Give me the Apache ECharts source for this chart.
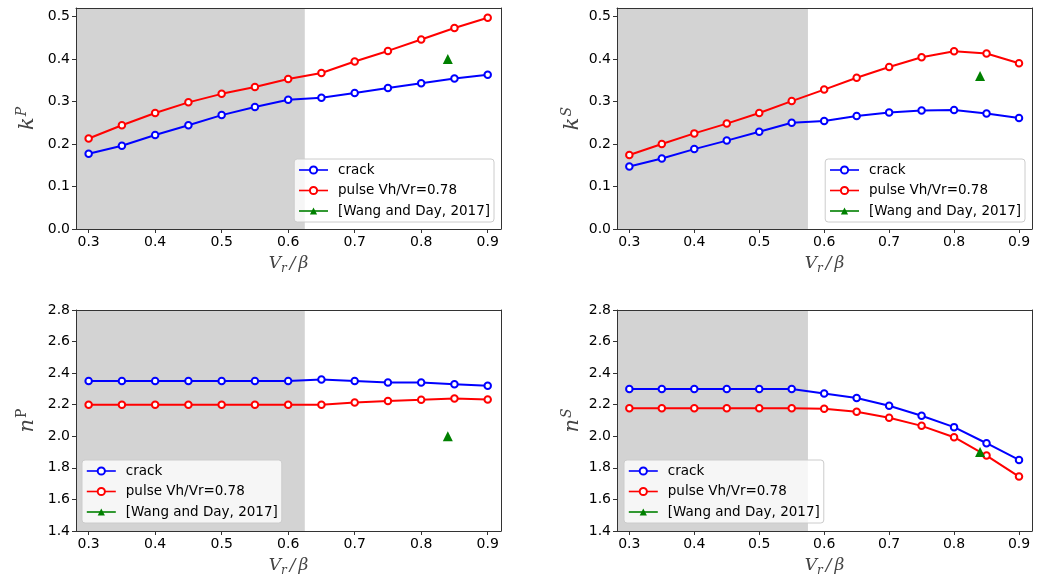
<!DOCTYPE html>
<html><head><meta charset="utf-8">
<script src="https://cdn.jsdelivr.net/npm/echarts@6/dist/echarts.min.js"></script>
<style>html,body{margin:0;padding:0;background:#fff}#c{width:1056px;height:582px}</style>
</head><body><div id="c"></div>
<script>
// ---- data ----
const vr = [0.30,0.35,0.40,0.45,0.50,0.55,0.60,0.65,0.70,0.75,0.80,0.85,0.90];
const kPCrack = [0.177,0.196,0.221,0.244,0.268,0.287,0.304,0.309,0.320,0.332,0.343,0.354,0.363];
const kPPulse = [0.213,0.244,0.273,0.298,0.318,0.334,0.353,0.367,0.394,0.419,0.446,0.473,0.497];
const kSCrack = [0.147,0.166,0.188,0.208,0.229,0.250,0.254,0.266,0.274,0.279,0.280,0.272,0.261];
const kSPulse = [0.174,0.200,0.225,0.248,0.273,0.301,0.328,0.356,0.381,0.404,0.418,0.413,0.390];
const nPCrack = [2.35,2.35,2.35,2.35,2.35,2.35,2.35,2.36,2.35,2.34,2.34,2.33,2.32];
const nPPulse = [2.20,2.20,2.20,2.20,2.20,2.20,2.20,2.20,2.214,2.223,2.231,2.240,2.233];
const nSCrack = [2.30,2.30,2.30,2.30,2.30,2.30,2.271,2.242,2.193,2.130,2.058,1.956,1.850];
const nSPulse = [2.178,2.178,2.178,2.178,2.178,2.178,2.174,2.155,2.117,2.066,1.994,1.878,1.745];
const wangX = 0.84;
const wangKP = 0.40, wangKS = 0.36, wangNP = 2.00, wangNS = 1.90;
const shadeEndP = 0.625, shadeEndS = 0.575;
const xTicks = [0.3,0.4,0.5,0.6,0.7,0.8,0.9];
const kTicks = [0.0,0.1,0.2,0.3,0.4,0.5];
const nTicks = [1.4,1.6,1.8,2.0,2.2,2.4,2.6,2.8];
const names = ['crack','pulse Vh/Vr=0.78','[Wang and Day, 2017]'];

// ---- layout ----
const X_MIN = 0.281, X_MAX = 0.92;
const panels = [
  {grid:{left:76,top:8,width:425,height:221}, ymin:0, ymax:0.52, ticks:kTicks, dec:1, crack:kPCrack, pulse:kPPulse, wang:wangKP, shade:shadeEndP,
   yname:'{i|k}{sup|P}', nameGap:35, legend:{right:562,bottom:360}},
  {grid:{left:617,top:8,width:415,height:221}, ymin:0, ymax:0.52, ticks:kTicks, dec:1, crack:kSCrack, pulse:kSPulse, wang:wangKS, shade:shadeEndS,
   yname:'{i|k}{sup|S}', nameGap:31, legend:{right:31,bottom:360}},
  {grid:{left:76,top:310,width:425,height:221}, ymin:1.4, ymax:2.8, ticks:nTicks, dec:1, crack:nPCrack, pulse:nPPulse, wang:wangNP, shade:shadeEndP,
   yname:'{i|n}{supr|P}', nameGap:35, legend:{left:82,bottom:59}},
  {grid:{left:617,top:310,width:415,height:221}, ymin:1.4, ymax:2.8, ticks:nTicks, dec:1, crack:nSCrack, pulse:nSPulse, wang:wangNS, shade:shadeEndS,
   yname:'{i|n}{sup|S}', nameGap:31, legend:{left:624,bottom:59}}
];

const axisColor = '#333';
const tickFont = {fontFamily:'DejaVu Sans', fontSize:14, color:'#000'};
const serif = 'DejaVu Serif';
const grids=[], xAxes=[], yAxes=[], series=[], legends=[];

panels.forEach((p, i) => {
  grids.push(Object.assign({containLabel:false, show:false}, p.grid));
  xAxes.push({type:'value', gridIndex:i, min:X_MIN, max:X_MAX, z:10,
    axisLine:{show:true, onZero:false, lineStyle:{color:axisColor, width:1}},
    axisTick:{show:true, length:4, lineStyle:{color:axisColor}, customValues:xTicks},
    axisLabel:Object.assign({show:true, margin:6, customValues:xTicks, formatter:v=>v.toFixed(1)}, tickFont),
    splitLine:{show:false},
    name:'{i|V}{sub|r}{sl|/}{i|β}', nameLocation:'middle', nameGap:24,
    nameTextStyle:{color:'#444', rich:{
      i:{fontFamily:serif, fontStyle:'italic', fontSize:17, color:'#444'},
      sl:{fontFamily:serif, fontStyle:'italic', fontSize:17, color:'#444', padding:[0,3,0,3]},
      sub:{fontFamily:serif, fontStyle:'italic', fontSize:12, color:'#444', padding:[10,0,0,0]}
    }}
  });
  xAxes.push({type:'value', gridIndex:i, position:'top', min:X_MIN, max:X_MAX, z:10,
    axisLine:{show:true, onZero:false, lineStyle:{color:axisColor, width:1}},
    axisTick:{show:false}, axisLabel:{show:false}, splitLine:{show:false}});
  yAxes.push({type:'value', gridIndex:i, min:p.ymin, max:p.ymax, z:10,
    axisLine:{show:true, onZero:false, lineStyle:{color:axisColor, width:1}},
    axisTick:{show:true, length:4, lineStyle:{color:axisColor}, customValues:p.ticks},
    axisLabel:Object.assign({show:true, margin:6, customValues:p.ticks, formatter:v=>v.toFixed(p.dec)}, tickFont),
    splitLine:{show:false},
    name:p.yname, nameLocation:'middle', nameGap:p.nameGap, nameRotate:90,
    nameTextStyle:{color:'#444', rich:{
      i:{fontFamily:serif, fontStyle:'italic', fontSize:21, color:'#444'},
      sup:{fontFamily:serif, fontStyle:'italic', fontSize:14, color:'#444', padding:[0,0,12,1]},
      supr:{fontFamily:serif, fontSize:14, color:'#444', padding:[0,0,12,1]}
    }}
  });
  yAxes.push({type:'value', gridIndex:i, position:'right', min:p.ymin, max:p.ymax, z:10,
    axisLine:{show:true, onZero:false, lineStyle:{color:axisColor, width:1}},
    axisTick:{show:false}, axisLabel:{show:false}, splitLine:{show:false}});

  const xi = i*2, yi = i*2;
  series.push({type:'line', name:'__shade'+i, xAxisIndex:xi, yAxisIndex:yi, data:[], silent:true, z:1,
    markArea:{silent:true, itemStyle:{color:'#d3d3d3', opacity:1},
      data:[[{coord:[X_MIN, p.ymin]},{coord:[p.shade, p.ymax]}]]}});
  series.push({type:'line', name:names[0], xAxisIndex:xi, yAxisIndex:yi, z:3,
    data:vr.map((x,k)=>[x,p.crack[k]]), symbol:'emptyCircle', symbolSize:6.5, showAllSymbol:true,
    color:'#0000ff', lineStyle:{color:'#0000ff', width:2}, itemStyle:{color:'#0000ff', borderWidth:1.5}, animation:false});
  series.push({type:'line', name:names[1], xAxisIndex:xi, yAxisIndex:yi, z:4,
    data:vr.map((x,k)=>[x,p.pulse[k]]), symbol:'emptyCircle', symbolSize:6.5, showAllSymbol:true,
    color:'#ff0000', lineStyle:{color:'#ff0000', width:2}, itemStyle:{color:'#ff0000', borderWidth:1.5}, animation:false});
  series.push({type:'line', name:names[2], xAxisIndex:xi, yAxisIndex:yi, z:5,
    data:[[wangX, p.wang]], symbol:'triangle', symbolSize:10,
    color:'#008000', lineStyle:{color:'#008000', width:2}, itemStyle:{color:'#008000'}, animation:false});

  legends.push(Object.assign({data:names, orient:'vertical', selectedMode:false,
    backgroundColor:'rgba(255,255,255,0.8)', borderColor:'#cccccc', borderWidth:1, borderRadius:3,
    padding:[4,4,4,4], itemWidth:29, itemHeight:9, itemGap:6.5,
    lineStyle:{width:1.6}, itemStyle:{borderWidth:1.3},
    textStyle:{fontFamily:'DejaVu Sans', fontSize:13.5, color:'#000', lineHeight:14, padding:[0,0,0,5]}}, p.legend));
});

const chart = echarts.init(document.getElementById('c'), null, {renderer:'canvas'});
chart.setOption({animation:false, backgroundColor:'#fff', grid:grids, xAxis:xAxes, yAxis:yAxes, legend:legends, series:series});
</script></body></html>
